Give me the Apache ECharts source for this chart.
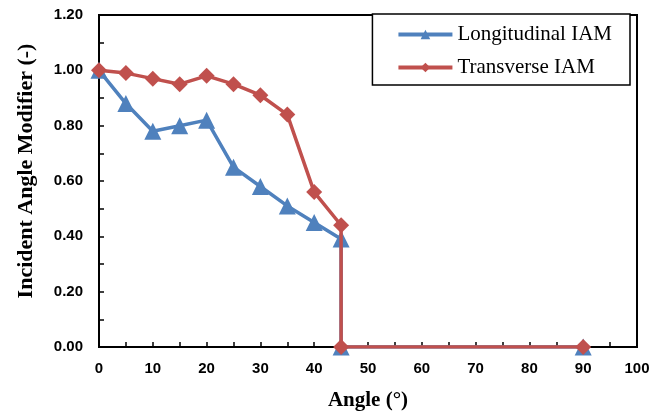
<!DOCTYPE html>
<html>
<head>
<meta charset="utf-8">
<script src="https://cdn.jsdelivr.net/npm/echarts@6/dist/echarts.min.js"></script>
<style>
  html, body { margin: 0; padding: 0; background: #fff; }
  #chart { width: 665px; height: 411px; }
</style>
</head>
<body>
<div id="chart"></div>
<script>
// data
var angles = [0, 5, 10, 15, 20, 25, 30, 35, 40, 45, 45, 90];
var longitudinal = [1.00, 0.88, 0.78, 0.80, 0.82, 0.65, 0.58, 0.51, 0.45, 0.39, 0.00, 0.00];
var transverse = [1.00, 0.99, 0.97, 0.95, 0.98, 0.95, 0.91, 0.84, 0.56, 0.44, 0.00, 0.00];
var seriesNames = ['Longitudinal IAM', 'Transverse IAM'];

function pairs(xs, ys) {
    return xs.map(function (x, i) { return [x, ys[i]]; });
}

var myChart = echarts.init(document.getElementById('chart'));

var tickFont = {
    color: '#000',
    fontFamily: 'Liberation Sans',
    fontWeight: 'bold',
    fontSize: 15
};

option = {
    animation: false,
    grid: {
        left: 99,
        right: 28,
        top: 15,
        bottom: 64,
        outerBoundsMode: 'none',
        show: true,
        borderColor: '#000',
        borderWidth: 2
    },
    legend: {
        right: 35,
        top: 14,
        orient: 'vertical',
        data: seriesNames,
        itemWidth: 54,
        itemHeight: 12,
        itemGap: 12,
        padding: [10, 18, 7, 24],
        borderColor: '#000',
        borderWidth: 1.5,
        backgroundColor: '#fff',
        lineStyle: { width: 4 },
        textStyle: {
            fontFamily: 'Liberation Serif',
            fontSize: 21,
            color: '#000'
        }
    },
    xAxis: {
        type: 'value',
        min: 0,
        max: 100,
        interval: 10,
        name: 'Angle (°)',
        nameLocation: 'middle',
        nameGap: 43,
        nameTextStyle: {
            fontFamily: 'Liberation Serif',
            fontWeight: 'bold',
            fontSize: 21,
            color: '#000'
        },
        axisLine: { lineStyle: { color: '#000', width: 2 } },
        axisTick: { inside: true, length: 5, lineStyle: { color: '#000', width: 1.5 } },
        minorTick: { show: true, splitNumber: 2, length: 5, lineStyle: { color: '#000', width: 1.5 } },
        splitLine: { show: false },
        axisLabel: Object.assign({ margin: 14 }, tickFont)
    },
    yAxis: {
        type: 'value',
        min: 0,
        max: 1.2,
        interval: 0.2,
        name: 'Incident Angle Modifier (-)',
        nameLocation: 'middle',
        nameGap: 62,
        nameTextStyle: {
            fontFamily: 'Liberation Serif',
            fontWeight: 'bold',
            fontSize: 22,
            color: '#000',
            padding: [0, 0, 0, 20]
        },
        axisLine: { show: true, lineStyle: { color: '#000', width: 2 } },
        axisTick: { show: true, inside: true, length: 5, lineStyle: { color: '#000', width: 1.5 } },
        minorTick: { show: true, splitNumber: 2, length: 5, lineStyle: { color: '#000', width: 1.5 } },
        splitLine: { show: false },
        axisLabel: Object.assign({
            margin: 16,
            formatter: function (v) { return v.toFixed(2); }
        }, tickFont)
    },
    series: [
        {
            name: seriesNames[0],
            type: 'line',
            data: pairs(angles, longitudinal),
            symbol: 'triangle',
            symbolSize: 17,
            color: '#4F81BD',
            lineStyle: { width: 3.5, color: '#4F81BD' },
            itemStyle: { color: '#4F81BD' },
            z: 2
        },
        {
            name: seriesNames[1],
            type: 'line',
            data: pairs(angles, transverse),
            symbol: 'diamond',
            symbolSize: 16,
            color: '#C0504D',
            lineStyle: { width: 3.5, color: '#C0504D' },
            itemStyle: { color: '#C0504D' },
            z: 3
        }
    ]
};

myChart.setOption(option);
window.addEventListener('resize', function () {
    myChart.resize();
});
</script>
</body>
</html>
